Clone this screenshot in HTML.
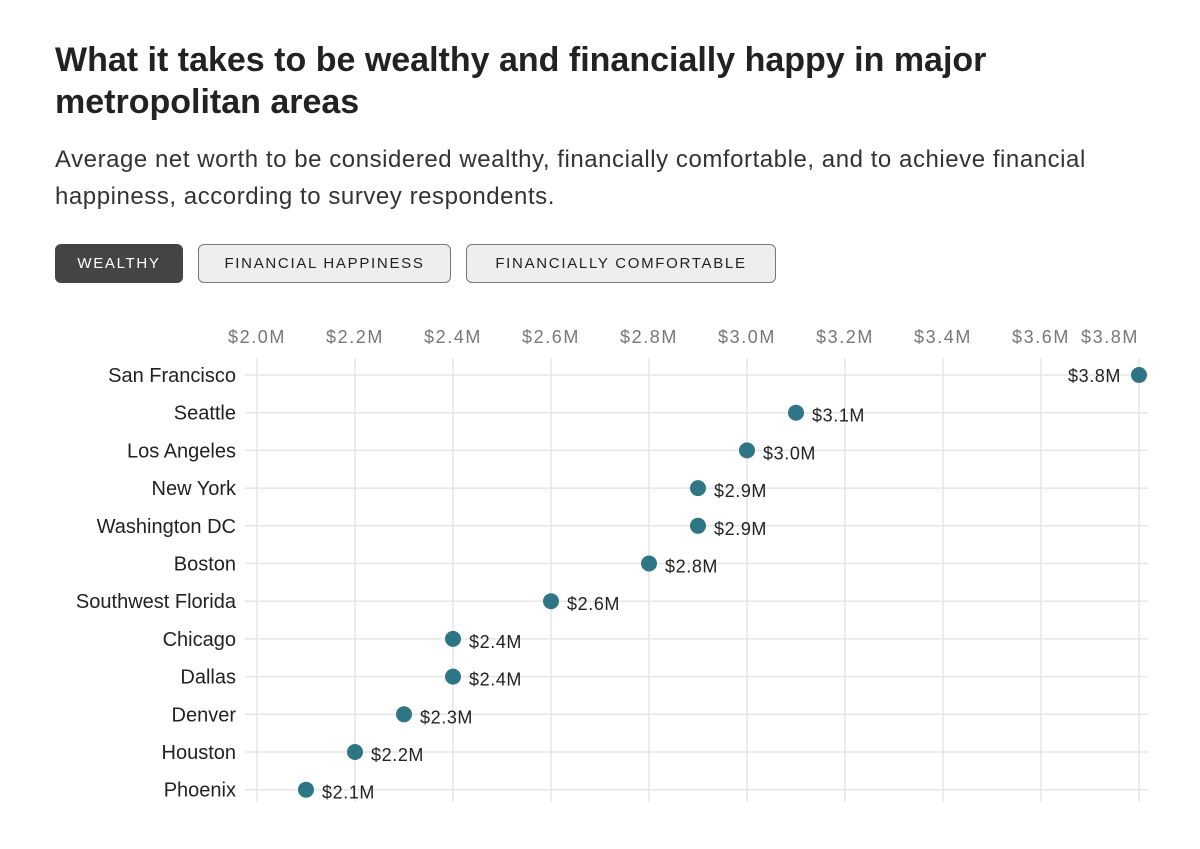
<!DOCTYPE html>
<html><head><meta charset="utf-8">
<style>
body{margin:0;background:#fff;width:1200px;height:849px;overflow:hidden;font-family:"Liberation Sans","DejaVu Sans",sans-serif;color:#222}
h1{position:absolute;left:55px;top:39px;margin:0;font-size:34px;line-height:42px;font-weight:bold;color:#222;width:1000px;letter-spacing:0px}
p.sub{position:absolute;left:55px;top:141px;margin:0;font-size:24px;line-height:37px;color:#333;width:1090px;letter-spacing:0.55px}
.btn{position:absolute;top:244px;height:39px;box-sizing:border-box;border:1.5px solid #777;border-radius:6px;background:#eee;font-size:15px;letter-spacing:1.7px;line-height:38px;text-align:center;color:#222}
.btn.on{background:#444;color:#fff;border-color:#444}
svg{position:absolute;left:0;top:0}
</style></head><body>
<h1>What it takes to be wealthy and financially happy in major metropolitan areas</h1>
<p class="sub">Average net worth to be considered wealthy, financially comfortable, and to achieve financial happiness, according to survey respondents.</p>
<div class="btn on" style="left:55px;width:128px">WEALTHY</div>
<div class="btn" style="left:198px;width:253px">FINANCIAL HAPPINESS</div>
<div class="btn" style="left:466px;width:310px">FINANCIALLY COMFORTABLE</div>
<svg id="chart" width="1200" height="849"></svg>
<script>
const cities=["San Francisco","Seattle","Los Angeles","New York","Washington DC","Boston","Southwest Florida","Chicago","Dallas","Denver","Houston","Phoenix"];
const values=[3.8,3.1,3.0,2.9,2.9,2.8,2.6,2.4,2.4,2.3,2.2,2.1];
const valueLabels=["$3.8M","$3.1M","$3.0M","$2.9M","$2.9M","$2.8M","$2.6M","$2.4M","$2.4M","$2.3M","$2.2M","$2.1M"];
const ticks=[2.0,2.2,2.4,2.6,2.8,3.0,3.2,3.4,3.6,3.8];
const tickLabels=["$2.0M","$2.2M","$2.4M","$2.6M","$2.8M","$3.0M","$3.2M","$3.4M","$3.6M","$3.8M"];
const svg=document.getElementById('chart');
const NS='http://www.w3.org/2000/svg';
const x=v=>257+(v-2.0)/1.8*882;
const y=i=>375+i*37.7;
function mk(t,a){const e=document.createElementNS(NS,t);for(const k in a)e.setAttribute(k,a[k]);svg.appendChild(e);return e;}
cities.forEach((c,i)=>{
  const l=mk('line',{x1:245,x2:1148,y1:y(i),y2:y(i),stroke:'#e6e6e6','stroke-width':1.5});
  
  
});
ticks.forEach((t,i)=>{
  const l=mk('line',{x1:x(t),x2:x(t),y1:358,y2:802,stroke:'#e6e6e6','stroke-width':1.5});
  
  
  const last=i===ticks.length-1;
  const tx=mk('text',{x:x(t),y:343,'text-anchor':last?'end':'middle','font-size':18,fill:'#777','letter-spacing':'1.6'});
  tx.textContent=tickLabels[i];
  
  
});
cities.forEach((c,i)=>{
  const t=mk('text',{x:236,y:y(i)+7,'text-anchor':'end','font-size':20,fill:'#222','letter-spacing':'0'});
  t.textContent=c;
  
  
  const d=mk('circle',{cx:x(values[i]),cy:y(i),r:8,fill:'#2e7686'});
  
  
  const last=values[i]>=3.7;
  const v=mk('text',{x:last?x(values[i])-18:x(values[i])+16,y:y(i)+(last?7:9),'text-anchor':last?'end':'start','font-size':18,fill:'#222','letter-spacing':'0.6'});
  v.textContent=valueLabels[i];
  
  
});
</script>
</body></html>
